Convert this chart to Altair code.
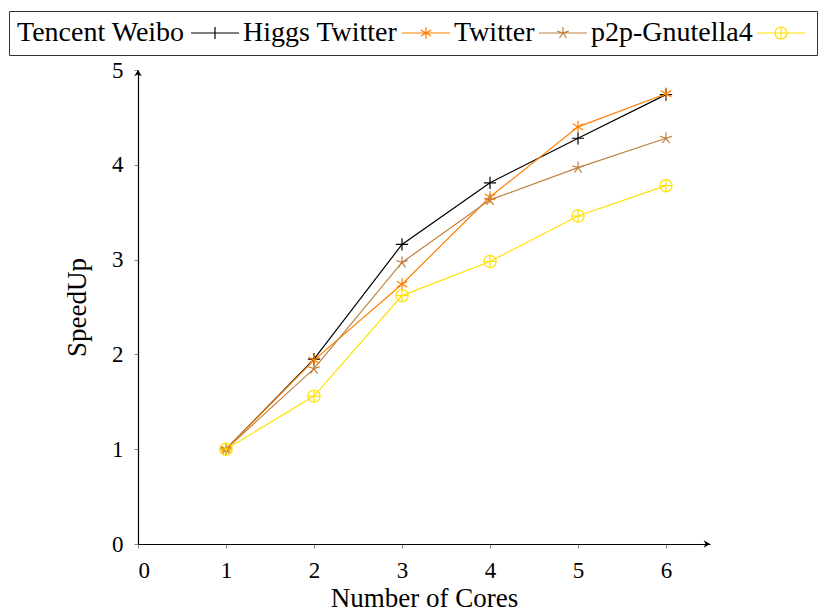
import altair as alt
import pandas as pd

# ---- data ----
cores = [1, 2, 3, 4, 5, 6]
series_names = ["Tencent Weibo", "Higgs Twitter", "Twitter", "p2p-Gnutella4"]
tencent_weibo = [1.00, 1.95, 3.16, 3.81, 4.28, 4.74]
higgs_twitter = [1.00, 1.94, 2.74, 3.66, 4.40, 4.75]
twitter = [1.00, 1.85, 2.97, 3.63, 3.97, 4.28]
p2p_gnutella4 = [1.00, 1.56, 2.62, 2.98, 3.46, 3.78]
x_ticks = [0, 1, 2, 3, 4, 5, 6]
y_ticks = [0, 1, 2, 3, 4, 5]
x_max = 6.5
y_max = 5

colors = ["#000000", "#ff8000", "#bf8040", "#ffe100"]

# marker shapes (unit square -1..1)
marker_paths = [
    "M-1,0H1M0,-1V1",
    "M0,-1V1M-0.866,-0.5L0.866,0.5M-0.866,0.5L0.866,-0.5",
    "M0,0L0,-1M0,0L-0.951,-0.309M0,0L-0.588,0.809M0,0L0.588,0.809M0,0L0.951,-0.309",
    "M1,0A1,1 0 1,1 -1,0A1,1 0 1,1 1,0ZM-1,0H1M0,-1V1",
]
# legend samples: line with the marker in its middle
s = 0.25
legend_paths = [
    f"M-1,0H1M0,-{s}V{s}",
    f"M-1,0H1M0,-{s}V{s}M-{0.866*s:.4f},-{0.5*s:.4f}L{0.866*s:.4f},{0.5*s:.4f}M-{0.866*s:.4f},{0.5*s:.4f}L{0.866*s:.4f},-{0.5*s:.4f}",
    f"M-1,0H1M0,0L0,-{s}M0,0L-{0.951*s:.4f},-{0.309*s:.4f}M0,0L-{0.588*s:.4f},{0.809*s:.4f}M0,0L{0.588*s:.4f},{0.809*s:.4f}M0,0L{0.951*s:.4f},-{0.309*s:.4f}",
    f"M-1,0H1M{s},0A{s},{s} 0 1,1 -{s},0A{s},{s} 0 1,1 {s},0ZM0,-{s}V{s}",
]

rows = []
for i, (name, vals) in enumerate(zip(series_names, [tencent_weibo, higgs_twitter, twitter, p2p_gnutella4])):
    for c, v in zip(cores, vals):
        rows.append({"series": name, "cores": c, "speedup": v, "order": i})
df = pd.DataFrame(rows)

arrows = pd.DataFrame({"x": [x_max, 0], "y": [0, y_max], "angle": [0, 270]})

FONT = "Liberation Serif"

# legend laid out as in the reference: every name is followed by its line sample
# (first name shown as the legend's left title, the next names after each sample)
label_expr = ""
for a, b in zip(series_names[:-1], series_names[1:]):
    label_expr += f"datum.label == '{a}' ? '{b}' : "
label_expr += "''"

x_enc = alt.X(
    "cores:Q",
    scale=alt.Scale(domain=[0, x_max], nice=False, zero=False),
    axis=alt.Axis(values=x_ticks, title="Number of Cores", format="d",
                  labelFontSize=23, titleFontSize=27, labelPadding=11,
                  titlePadding=3, tickSize=4),
)
y_enc = alt.Y(
    "speedup:Q",
    scale=alt.Scale(domain=[0, y_max], nice=False),
    axis=alt.Axis(values=y_ticks, title="SpeedUp", format="d",
                  labelFontSize=23, titleFontSize=27, labelPadding=11,
                  titlePadding=20, tickSize=4),
)

color_scale = alt.Scale(domain=series_names, range=colors)

lines = alt.Chart(df).mark_line(strokeWidth=1.2).encode(
    x=x_enc, y=y_enc,
    color=alt.Color("series:N", scale=color_scale, legend=None),
    order=alt.Order("cores:Q"),
)

points = alt.Chart(df).mark_point(filled=False, size=150, strokeWidth=1.2, opacity=1).encode(
    x=x_enc, y=y_enc,
    color=alt.Color("series:N", scale=color_scale, legend=None),
    shape=alt.Shape("series:N", scale=alt.Scale(domain=series_names, range=marker_paths), legend=None),
)

legend_obj = alt.Legend(
    title=series_names[0], titleOrient="left", titleFont=FONT, titleFontSize=28,
    titleFontWeight="normal", titleColor="black", titlePadding=5, titleBaseline="middle",
    orient="none", legendX=-129, legendY=-59,
    direction="horizontal", columns=4, columnPadding=3,
    labelExpr=label_expr, labelOffset=3, labelBaseline="middle",
    labelFont=FONT, labelFontSize=28, labelColor="black", labelLimit=400,
    symbolSize=2304, symbolStrokeWidth=1.2, symbolOffset=0, clipHeight=28,
    strokeColor="#333333", padding=8,
)

legend_layer = alt.Chart(df).mark_point(filled=False, size=0, strokeWidth=1.2, opacity=1).encode(
    x=x_enc, y=y_enc,
    color=alt.Color("series:N", scale=color_scale, legend=legend_obj),
    shape=alt.Shape("series:N", scale=alt.Scale(domain=series_names, range=legend_paths), legend=legend_obj),
)

arrow_layer = alt.Chart(arrows).mark_point(
    shape="M0,0L-1,-0.6L-0.7,0L-1,0.6Z", filled=True, size=160, color="black", opacity=1
).encode(
    x=alt.X("x:Q", scale=alt.Scale(domain=[0, x_max], nice=False, zero=False)),
    y=alt.Y("y:Q", scale=alt.Scale(domain=[0, y_max], nice=False)),
    angle=alt.Angle("angle:Q", scale=None),
)

chart = alt.layer(lines, points, legend_layer, arrow_layer).resolve_scale(
    shape="independent", color="independent"
).properties(
    width=572, height=474,
    padding={"left": 0, "top": 2, "right": 0, "bottom": 0},
).configure(
    font=FONT,
).configure_view(
    stroke=None,
).configure_axis(
    grid=False, domainColor="black", domainWidth=1.2,
    tickColor="#888888", tickWidth=1,
    labelColor="black", titleColor="black",
    labelFont=FONT, titleFont=FONT, titleFontWeight="normal",
)

chart.save("out.html", embed_options={"renderer": "svg", "actions": False})
